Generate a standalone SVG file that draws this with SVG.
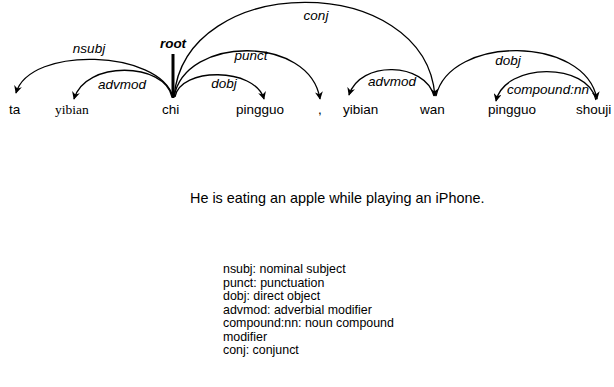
<svg xmlns="http://www.w3.org/2000/svg" width="614" height="387" viewBox="0 0 614 387">
  <defs>
    <marker id="arrow" viewBox="0 0 10 10" refX="9" refY="5" markerWidth="8" markerHeight="8" markerUnits="userSpaceOnUse" orient="auto">
      <path d="M0,0 L10,5 L0,10 L3,5 Z" fill="#000"/>
    </marker>
  </defs>
  <style>
    .word { font-family: "Liberation Sans", Arial, sans-serif; font-size: 13.5px; fill: #000; }
    .serif { font-family: "Liberation Serif", "Times New Roman", serif; }
    .rel { font-family: "Liberation Sans", Arial, sans-serif; font-size: 13.5px; font-style: italic; fill: #000; text-anchor: middle; }
    .root { font-weight: bold; }
    .arc { fill: none; stroke: #000; stroke-width: 1.3; marker-end: url(#arrow); }
    .sentence { font-family: "Liberation Sans", Arial, sans-serif; font-size: 14.4px; fill: #000; }
    .body { font-family: "Liberation Sans", Arial, sans-serif; font-size: 12.4px; fill: #000; }
  </style>
  <rect width="614" height="387" fill="#fff"/>

  <!-- tokens -->
  <g id="w-ta"><text class="word" x="9" y="114">ta</text></g>
  <g id="w-yibian1"><text class="word serif" x="55" y="114">yibian</text></g>
  <g id="w-chi"><text class="word" x="162" y="114">chi</text></g>
  <g id="w-pingguo1"><text class="word" x="236" y="114">pingguo</text></g>
  <g id="w-comma"><text class="word" x="318" y="114">,</text></g>
  <g id="w-yibian2"><text class="word" x="343" y="114">yibian</text></g>
  <g id="w-wan"><text class="word" x="420" y="114">wan</text></g>
  <g id="w-pingguo2"><text class="word" x="488" y="114">pingguo</text></g>
  <g id="w-shouji"><text class="word" x="576" y="114">shouji</text></g>

  <!-- root marker -->
  <g id="root">
    <line x1="173" y1="54" x2="173" y2="98" stroke="#000" stroke-width="3"/>
    <text class="rel root" x="173" y="48">root</text>
  </g>

  <!-- dependency arcs -->
  <g id="connectors">
    <path class="arc" d="M173,97 C160,50 30,45 16,93"/>
    <path class="arc" d="M172,97 C165,62 85,60 74,99"/>
    <path class="arc" d="M174,97 C185,-29 425,-29 435,96"/>
    <path class="arc" d="M174,97 C185,35 310,35 320,99"/>
    <path class="arc" d="M175,97 C180,67 255,67 264,99"/>
    <path class="arc" d="M434,96 C425,62 360,60 349,95"/>
    <path class="arc" d="M436,96 C450,35 585,35 597,99"/>
    <path class="arc" d="M596,100 C588,62 505,62 496,101"/>
  </g>

  <!-- arc labels -->
  <g id="labels">
    <text class="rel" x="89" y="53">nsubj</text>
    <text class="rel" x="122" y="89">advmod</text>
    <text class="rel" x="316" y="20">conj</text>
    <text class="rel" x="251" y="60">punct</text>
    <text class="rel" x="224" y="88">dobj</text>
    <text class="rel" x="392" y="86">advmod</text>
    <text class="rel" x="508" y="65">dobj</text>
    <text class="rel" x="548" y="94">compound:nn</text>
  </g>

  <!-- translation -->
  <g id="translation">
    <text class="sentence" x="190" y="203">He is eating an apple while playing an iPhone.</text>
  </g>

  <!-- legend -->
  <g id="legend" class="body">
    <text x="223" y="273">nsubj: nominal subject</text>
    <text x="223" y="286.5">punct: punctuation</text>
    <text x="223" y="300">dobj: direct object</text>
    <text x="223" y="313.5">advmod: adverbial modifier</text>
    <text x="223" y="327">compound:nn: noun compound</text>
    <text x="223" y="340.5">modifier</text>
    <text x="223" y="354">conj: conjunct</text>
  </g>
</svg>
